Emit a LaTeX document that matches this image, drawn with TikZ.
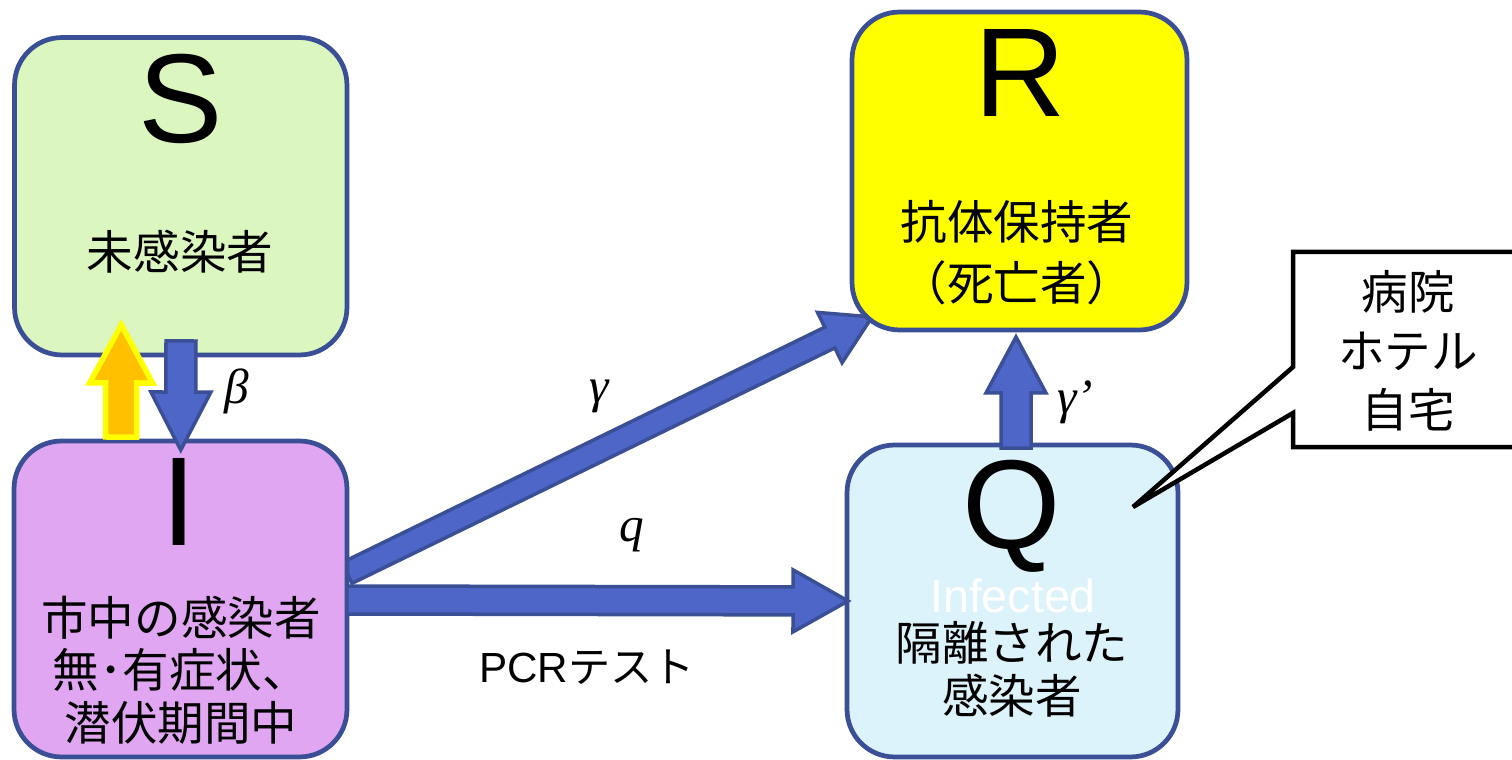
\documentclass[tikz,border=0pt]{standalone}
\usepackage{fontspec}
\setmainfont{Liberation Sans}
\newfontfamily\jp{Noto Sans CJK JP}
\newfontfamily\serifit{Liberation Serif}
\usetikzlibrary{calc}
\definecolor{bordblue}{HTML}{3A4F96}
\definecolor{arrblue}{HTML}{4D66C8}
\definecolor{sgreen}{HTML}{DBF6BE}
\definecolor{ipurple}{HTML}{E0A6F2}
\definecolor{qblue}{HTML}{DDF3FC}
\definecolor{ryellow}{HTML}{FFFF00}
\definecolor{orangeA}{HTML}{FFC000}
\pgfdeclarelayer{back}
\pgfdeclarelayer{bg}
\pgfsetlayers{back,bg,main}
% #1 style, #2 start, #3 end, #4 shaft half width, #5 head half width, #6 head length
\newcommand\blockarr[6]{%
  \path (#2) coordinate (ba-s) (#3) coordinate (ba-e);
  \coordinate (ba-h) at ($(ba-e)!#6!(ba-s)$);
  \draw[#1] ($(ba-s)!#4!90:(ba-e)$) -- ($(ba-h)!#4!90:(ba-e)$) -- ($(ba-h)!#5!90:(ba-e)$) -- (ba-e) -- ($(ba-h)!#5!-90:(ba-e)$) -- ($(ba-h)!#4!-90:(ba-e)$) -- ($(ba-s)!#4!-90:(ba-e)$) -- cycle;
}
\begin{document}
\begin{tikzpicture}[x=0.02cm,y=-0.02cm,
  box/.style={rectangle, draw=bordblue, line width=0.095cm, rounded corners=0.95cm, inner sep=0pt, outer sep=0pt},
  big/.style={font=\fontsize{72}{72}\selectfont, inner sep=0pt, anchor=base},
  jtxt/.style={font=\jp\fontsize{26.5}{30}\selectfont, align=center, inner sep=0pt},
  greek/.style={font=\serifit\itshape\fontsize{28}{28}\selectfont, inner sep=0pt},
  barrow/.style={fill=arrblue, draw=bordblue, line width=0.07cm, line join=miter},
  oarrow/.style={fill=orangeA, draw=ryellow, line width=0.11cm, line join=miter},
  callout/.style={draw=black, fill=white, line width=0.09cm, line join=miter},
]
\clip (0,0) rectangle (1512,760);
\begin{pgfonlayer}{back}
\fill[white] (0,0) rectangle (1512,760);
\end{pgfonlayer}

% boxes
\node[box, fill=sgreen, minimum width=6.65cm, minimum height=6.35cm] (S) at (180.75,196.25) {};
\node[box, fill=ipurple, minimum width=6.66cm, minimum height=6.32cm] (I) at (180.5,599) {};
\node[box, fill=ryellow, minimum width=6.7cm, minimum height=6.36cm] (R) at (1019.5,171) {};
\node[box, fill=qblue, minimum width=6.62cm, minimum height=6.24cm] (Q) at (1012.5,601) {};

% big letters
\node[big] (Sl) at (181,143) {S};
\node[big] (Rl) at (1020,117) {R};
\node[big] (Il) at (179,545) {I};
\node[big] (Ql) at (1012,548) {Q};

% texts
\node[jtxt] (St) at (180,252) {未感染者};
\node[jtxt, font=\jp\fontsize{26.5}{34.6}\selectfont] (Rt) at (1017,253) {抗体保持者\\（死亡者）};
\node[jtxt] (It) at (181,670) {市中の感染者\\無･有症状、\\潜伏期間中};
\node[font=\fontsize{26.5}{26.5}\selectfont, text=white, anchor=base, inner sep=0pt] (Qi) at (1013,612) {Infected};
\node[jtxt] (Qt) at (1012,669) {隔離された\\感染者};
\node[font=\fontsize{24}{24}\selectfont, inner sep=0pt] (pcr) at (587,667) {PCR{\jp テスト}};

% greek labels
\node[greek] (beta) at (237,391) {β};
\node[greek] (gam) at (599,396) {γ};
\node[greek] (qq) at (632,535) {q};
\node[greek] (gamp) at (1075,402) {γ’};

% arrows under boxes
\begin{pgfonlayer}{bg}
\blockarr{barrow}{[yshift=0.52cm]I.east}{[xshift=0.4cm,yshift=0.26cm]R.south west}{0.23cm}{0.56cm}{0.94cm}
\end{pgfonlayer}
\blockarr{barrow}{[yshift=-0.02cm]I.east}{[xshift=0.02cm]Q.west}{0.28cm}{0.62cm}{1.1cm}

% vertical arrows
\blockarr{barrow}{[xshift=0.005cm,yshift=0.28cm]S.south}{[xshift=0.005cm,yshift=-0.18cm]I.north}{0.30cm}{0.6cm}{1.16cm}
\blockarr{oarrow}{[xshift=-1.19cm,yshift=0.08cm]I.north}{[xshift=-1.19cm,yshift=0.6cm]S.south}{0.31cm}{0.63cm}{1.16cm}
\blockarr{barrow}{[xshift=0.07cm,yshift=-0.06cm]Q.north}{[xshift=-0.07cm,yshift=-0.14cm]R.south}{0.30cm}{0.6cm}{1.12cm}

% callout
\coordinate (cotip) at (1133,507);
\draw[callout] (1540,252) -- (1293,252) -- (1293,367) -- (cotip) -- (1293,413) -- (1293,447) -- (1540,447) -- cycle;
\node[jtxt, font=\jp\fontsize{26.5}{33.5}\selectfont] (Ct) at (1408,351) {病院\\ホテル\\自宅};
\end{tikzpicture}
\end{document}
